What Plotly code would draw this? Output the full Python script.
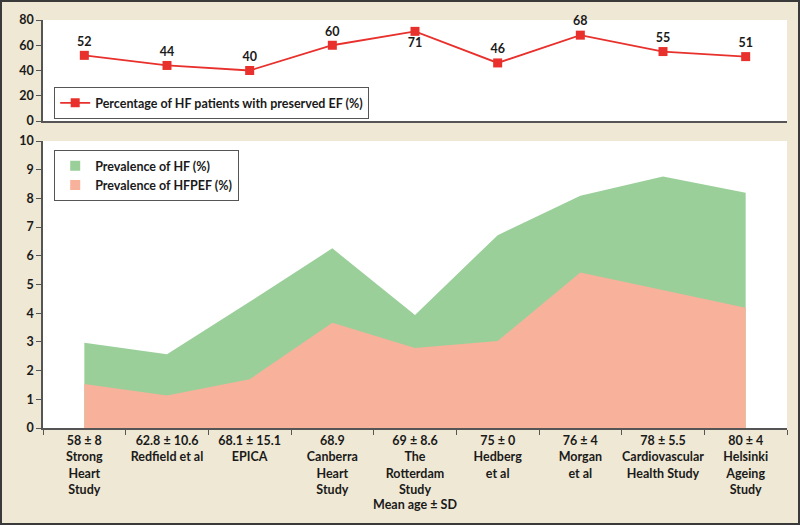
import plotly.graph_objects as go
from plotly.subplots import make_subplots

categories = [
    "58 ± 8<br>Strong<br>Heart<br>Study",
    "62.8 ± 10.6<br>Redfield et al",
    "68.1 ± 15.1<br>EPICA",
    "68.9<br>Canberra<br>Heart<br>Study",
    "69 ± 8.6<br>The<br>Rotterdam<br>Study",
    "75 ± 0<br>Hedberg<br>et al",
    "76 ± 4<br>Morgan<br>et al",
    "78 ± 5.5<br>Cardiovascular<br>Health Study",
    "80 ± 4<br>Helsinki<br>Ageing<br>Study",
]
pct_preserved_ef = [52, 44, 40, 60, 71, 46, 68, 55, 51]
prevalence_hf = [2.97, 2.57, 4.4, 6.26, 3.94, 6.72, 8.09, 8.76, 8.2]
prevalence_hfpef = [1.53, 1.13, 1.7, 3.67, 2.79, 3.03, 5.42, 4.8, 4.19]
label_pos = ["top center"] * 9
label_pos[4] = "bottom center"

W, H = 800, 525
L, R, T, B = 43, 13, 20, 97
pw, ph = W - L - R, H - T - B

def py(px):
    return (H - B - px) / ph

def pxx(px):
    return (px - L) / pw

FONT = "Lato"
FW = 700
FS = 12.5
TXT = "#1a1a1a"
AX = "#555555"
GREEN = "#9acf9a"
PINK = "#f8b19a"

fig = make_subplots(rows=2, cols=1, shared_xaxes=False, vertical_spacing=0.05)

fig.add_trace(go.Scatter(
    x=categories, y=pct_preserved_ef, mode="lines+markers+text",
    name="Percentage of HF patients with preserved EF (%)",
    line=dict(color="#e8302c", width=1.8),
    marker=dict(symbol="square", size=9, color="#e8302c"),
    text=[str(v) for v in pct_preserved_ef], textposition=label_pos,
    textfont=dict(family=FONT, size=FS, color=TXT, weight=FW),
    legend="legend", cliponaxis=False,
), row=1, col=1)

fig.add_trace(go.Scatter(
    x=categories, y=prevalence_hf, mode="lines", fill="tozeroy",
    name="Prevalence of HF (%)", showlegend=False,
    line=dict(color=GREEN, width=0), fillcolor=GREEN,
), row=2, col=1)
fig.add_trace(go.Scatter(
    x=categories, y=prevalence_hfpef, mode="lines", fill="tozeroy",
    name="Prevalence of HFPEF (%)", showlegend=False,
    line=dict(color=PINK, width=0), fillcolor=PINK,
), row=2, col=1)
# legend entries with small square swatches
for nm, col in [("Prevalence of HF (%)", GREEN), ("Prevalence of HFPEF (%)", PINK)]:
    fig.add_trace(go.Scatter(
        x=[None], y=[None], mode="markers", name=nm,
        marker=dict(symbol="square", size=10, color=col),
        legend="legend2",
    ), row=2, col=1)

axis_common = dict(showgrid=False, zeroline=False, showline=True, linecolor=AX,
                   linewidth=1.5, ticks="outside", ticklen=5, tickcolor=AX,
                   automargin=False,
                   tickfont=dict(family=FONT, size=FS, color=TXT, weight=FW))

fig.update_xaxes(row=1, col=1, domain=[0, 1], range=[-0.5, 8.5], showticklabels=False,
                 showgrid=False, zeroline=False, showline=True, linecolor=AX, linewidth=2,
                 ticks="", automargin=False)
fig.update_xaxes(row=2, col=1, domain=[0, 1], range=[-0.5, 8.5], tickson="boundaries",
                 tickangle=0,
                 title=dict(text="Mean age ± SD", standoff=0,
                            font=dict(family=FONT, size=FS, color=TXT, weight=FW)),
                 **{**axis_common, "linewidth": 2})
fig.update_yaxes(row=1, col=1, domain=[py(121), 1], range=[0, 80], dtick=20, **axis_common)
fig.update_yaxes(row=2, col=1, domain=[0, py(141)], range=[0, 10], dtick=1, **axis_common)

legend_common = dict(bgcolor="white", bordercolor="#555555", borderwidth=1.2,
                     font=dict(family=FONT, size=FS, color=TXT, weight=FW),
                     xanchor="left", yanchor="top", itemwidth=30)
fig.update_layout(
    width=W, height=H,
    margin=dict(l=L, r=R, t=T, b=B, autoexpand=False),
    paper_bgcolor="#efe8d4", plot_bgcolor="white",
    showlegend=True,
    legend=dict(x=pxx(54), y=py(87), **legend_common),
    legend2=dict(x=pxx(54), y=py(150), tracegroupgap=0, **legend_common),
    shapes=[dict(type="rect", xref="paper", yref="paper",
                 x0=pxx(1), x1=pxx(799), y0=py(524), y1=py(1),
                 line=dict(color="#3a3a3a", width=2), layer="above")],
)

fig.write_html("out.html", config={"displayModeBar": False},
               post_script="document.body.style.margin='0';document.body.style.padding='0';")
